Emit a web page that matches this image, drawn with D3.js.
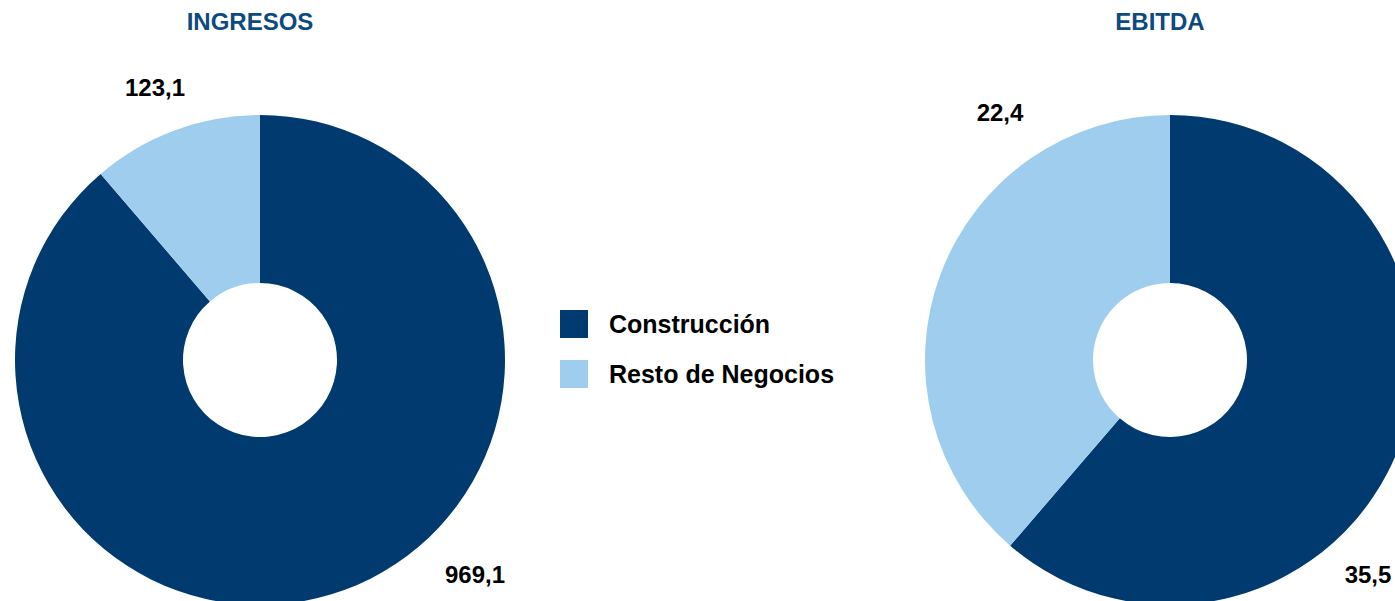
<!DOCTYPE html>
<html>
<head>
<meta charset="utf-8">
<script src="https://cdn.jsdelivr.net/npm/d3@7"></script>
<style>
  html, body { margin: 0; padding: 0; background: #ffffff; overflow: hidden; }
  svg { display: block; font-family: "Liberation Sans", Arial, sans-serif; }
</style>
</head>
<body>
<svg id="chart" width="1395" height="601"></svg>
<script>
// ---- data ----
const categories = ["Construcción", "Resto de Negocios"];
const chartTitles = ["INGRESOS", "EBITDA"];
const ingresosValues = [969.1, 123.1];
const ebitdaValues = [35.5, 22.4];
const valueLabels = [["969,1", "123,1"], ["35,5", "22,4"]];

// ---- styles / layout ----
const colors = ["#003a6e", "#9fcdee"];
const titleColor = "#0c4a80";
const outerR = 245, innerR = 77;
const centers = [[260, 360], [1170, 360]];
const titleY = 30;
// label offsets relative to each pie centre (manually placed in original)
const labelOffsets = [
  [[215, 223], [-105, -264]],
  [[198, 223], [-170, -239]]
];

const svg = d3.select("#chart");
const color = d3.scaleOrdinal().domain(categories).range(colors);
const pie = d3.pie().sort(null).value(d => d.value);
const arc = d3.arc().innerRadius(innerR).outerRadius(outerR);

const datasets = [ingresosValues, ebitdaValues];

datasets.forEach((vals, i) => {
  const data = categories.map((c, j) => ({ cat: c, value: vals[j] }));
  const g = svg.append("g").attr("transform", `translate(${centers[i][0]},${centers[i][1]})`);
  g.selectAll("path")
    .data(pie(data))
    .join("path")
    .attr("d", arc)
    .attr("fill", d => color(d.data.cat));

  g.selectAll("text.lbl")
    .data(data)
    .join("text")
    .attr("class", "lbl")
    .attr("x", (d, j) => labelOffsets[i][j][0])
    .attr("y", (d, j) => labelOffsets[i][j][1])
    .attr("text-anchor", "middle")
    .attr("font-size", 24)
    .attr("font-weight", "bold")
    .attr("fill", "#000")
    .text((d, j) => valueLabels[i][j]);

  svg.append("text")
    .attr("x", centers[i][0] - 10)
    .attr("y", titleY)
    .attr("text-anchor", "middle")
    .attr("font-size", 24)
    .attr("font-weight", "bold")
    .attr("fill", titleColor)
    .text(chartTitles[i]);
});

// ---- legend ----
const legend = svg.append("g").attr("transform", "translate(560,310)");
const li = legend.selectAll("g").data(categories).join("g")
  .attr("transform", (d, i) => `translate(0,${i * 50})`);
li.append("rect").attr("width", 28).attr("height", 28).attr("fill", d => color(d));
li.append("text")
  .attr("x", 49).attr("y", 23)
  .attr("font-size", 25).attr("font-weight", "bold").attr("fill", "#000")
  .text(d => d);
</script>
</body>
</html>
